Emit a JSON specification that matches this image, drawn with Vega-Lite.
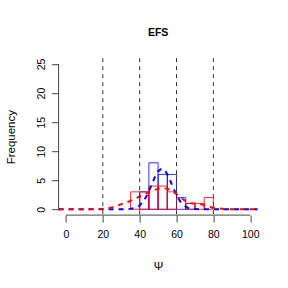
{
  "$schema": "https://vega.github.io/schema/vega-lite/v6.json",
  "width": 199,
  "height": 156.9,
  "autosize": {"type": "none"},
  "padding": {"left": 58.6, "top": 58.2, "right": 30.4, "bottom": 72.9},
  "background": "white",
  "title": {"text": "EFS", "font": "Liberation Sans", "fontSize": 10.5, "fontWeight": "bold", "color": "black", "anchor": "middle", "frame": "group", "baseline": "alphabetic", "offset": 11.5},
  "config": {"view": {"stroke": null}, "axis": {"grid": false, "tickCount": 12, "labelOverlap": false, "labelFlush": false, "labelBound": false, "labelFont": "Liberation Sans", "titleFont": "Liberation Sans", "labelFontSize": 10.5, "titleFontSize": 11.5, "labelColor": "black", "titleColor": "black", "tickColor": "#444", "titleFontWeight": "normal"}},
  "datasets": {
    "hist": [
      {"g": "b", "lo": 40, "hi": 45, "n": 3},
      {"g": "b", "lo": 45, "hi": 50, "n": 8},
      {"g": "b", "lo": 50, "hi": 55, "n": 6},
      {"g": "b", "lo": 55, "hi": 60, "n": 6},
      {"g": "b", "lo": 60, "hi": 65, "n": 2},
      {"g": "b", "lo": 65, "hi": 70, "n": 1},
      {"g": "r", "lo": 35, "hi": 40, "n": 3},
      {"g": "r", "lo": 40, "hi": 45, "n": 3},
      {"g": "r", "lo": 45, "hi": 50, "n": 4},
      {"g": "r", "lo": 50, "hi": 55, "n": 4},
      {"g": "r", "lo": 55, "hi": 60, "n": 3},
      {"g": "r", "lo": 65, "hi": 70, "n": 1},
      {"g": "r", "lo": 70, "hi": 75, "n": 1},
      {"g": "r", "lo": 75, "hi": 80, "n": 2}
    ],
    "dens": [
      {"g": "b", "x": -4, "y": 0}, {"g": "b", "x": 25, "y": 0}, {"g": "b", "x": 34, "y": 0.03},
      {"g": "b", "x": 38, "y": 0.27}, {"g": "b", "x": 40, "y": 0.65}, {"g": "b", "x": 42, "y": 1.34},
      {"g": "b", "x": 44, "y": 2.43}, {"g": "b", "x": 46, "y": 3.86}, {"g": "b", "x": 48, "y": 5.37},
      {"g": "b", "x": 50, "y": 6.55}, {"g": "b", "x": 52, "y": 7.0}, {"g": "b", "x": 54, "y": 6.55},
      {"g": "b", "x": 56, "y": 5.37}, {"g": "b", "x": 58, "y": 3.86}, {"g": "b", "x": 60, "y": 2.43},
      {"g": "b", "x": 62, "y": 1.34}, {"g": "b", "x": 64, "y": 0.65}, {"g": "b", "x": 66, "y": 0.27},
      {"g": "b", "x": 70, "y": 0.03}, {"g": "b", "x": 75, "y": 0}, {"g": "b", "x": 104, "y": 0},
      {"g": "r", "x": -4, "y": 0}, {"g": "r", "x": 10, "y": 0}, {"g": "r", "x": 15, "y": 0.03},
      {"g": "r", "x": 20, "y": 0.1}, {"g": "r", "x": 23, "y": 0.17}, {"g": "r", "x": 26, "y": 0.4},
      {"g": "r", "x": 29, "y": 0.75}, {"g": "r", "x": 32, "y": 1.1}, {"g": "r", "x": 35, "y": 1.45},
      {"g": "r", "x": 38, "y": 1.9}, {"g": "r", "x": 41, "y": 2.35}, {"g": "r", "x": 44, "y": 2.8},
      {"g": "r", "x": 47, "y": 3.2}, {"g": "r", "x": 50, "y": 3.55}, {"g": "r", "x": 52, "y": 3.65},
      {"g": "r", "x": 54, "y": 3.6}, {"g": "r", "x": 56, "y": 3.4}, {"g": "r", "x": 58, "y": 3.1},
      {"g": "r", "x": 60, "y": 2.6}, {"g": "r", "x": 62, "y": 2.1}, {"g": "r", "x": 64, "y": 1.6},
      {"g": "r", "x": 66, "y": 1.25}, {"g": "r", "x": 68, "y": 1.05}, {"g": "r", "x": 70, "y": 1.0},
      {"g": "r", "x": 72, "y": 0.95}, {"g": "r", "x": 74, "y": 0.8}, {"g": "r", "x": 76, "y": 0.6},
      {"g": "r", "x": 78, "y": 0.4}, {"g": "r", "x": 80, "y": 0.25}, {"g": "r", "x": 83, "y": 0.13},
      {"g": "r", "x": 86, "y": 0.05}, {"g": "r", "x": 90, "y": 0.01}, {"g": "r", "x": 95, "y": 0},
      {"g": "r", "x": 104, "y": 0}
    ],
    "vlines": [{"v": 20}, {"v": 40}, {"v": 60}, {"v": 80}]
  },
  "layer": [
    {
      "data": {"name": "hist"},
      "mark": {"type": "rect", "filled": false, "strokeWidth": 1, "strokeOpacity": 0.8},
      "encoding": {
        "x": {"field": "lo", "type": "quantitative", "scale": {"domain": [-4, 104], "nice": false, "zero": false},
              "axis": {"values": [0, 20, 40, 60, 80, 100], "tickCount": 12, "domain": false, "tickSize": 7, "labelPadding": 7, "title": "Ψ", "titleBaseline": "middle", "titleY": 51}},
        "x2": {"field": "hi"},
        "y": {"field": "n", "type": "quantitative", "scale": {"domain": [-1, 26], "nice": false, "zero": false},
              "axis": {"values": [0, 5, 10, 15, 20, 25], "tickCount": 12, "domain": false, "tickSize": 7, "labelAngle": 270, "labelAlign": "center", "labelBaseline": "bottom", "labelPadding": 5, "title": "Frequency", "titleX": -47, "titleY": 78.5, "titleAngle": 270, "titleAlign": "center", "titleBaseline": "middle"}},
        "y2": {"datum": 0},
        "color": {"field": "g", "type": "nominal", "scale": {"domain": ["b", "r"], "range": ["#0000ff", "#ff0000"]}, "legend": null}
      }
    },
    {
      "data": {"name": "dens"},
      "mark": {"type": "line", "strokeWidth": 2, "strokeDash": [5, 5]},
      "encoding": {
        "x": {"field": "x", "type": "quantitative"},
        "y": {"field": "y", "type": "quantitative"},
        "color": {"field": "g", "type": "nominal", "legend": null}
      }
    },
    {
      "data": {"name": "vlines"},
      "mark": {"type": "rule", "color": "#333", "strokeWidth": 1, "strokeDash": [4, 4]},
      "encoding": {"x": {"field": "v", "type": "quantitative"}}
    },
    {
      "data": {"values": [{"a": 0, "b": 25}]},
      "mark": {"type": "rule", "color": "#444", "strokeWidth": 1},
      "encoding": {"x": {"datum": -4}, "y": {"field": "a", "type": "quantitative"}, "y2": {"field": "b"}}
    },
    {
      "data": {"values": [{"a": 0, "b": 100}]},
      "mark": {"type": "rule", "color": "#444", "strokeWidth": 1},
      "encoding": {"y": {"datum": -1}, "x": {"field": "a", "type": "quantitative"}, "x2": {"field": "b"}}
    }
  ]
}
